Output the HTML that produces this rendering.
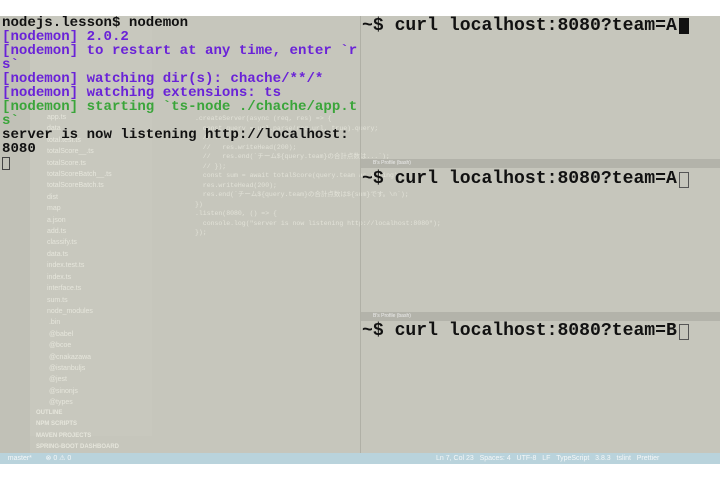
<!DOCTYPE html>
<html><head><meta charset="utf-8"><style>
body{margin:0;width:720px;height:480px;background:#fff;position:relative;overflow:hidden;font-family:"Liberation Mono",monospace}
.a{position:absolute}
.bg{left:0;top:16px;width:720px;height:437px;background:#c6c6bc}
.act{left:0;top:16px;width:30px;height:437px;background:#c1c1b7}
.exp{left:30px;top:16px;width:122px;height:420px;background:#c8c8be}
.status{left:0;top:453px;width:720px;height:11px;background:#b9d3dc;font:7px "Liberation Sans",sans-serif;color:#f4f7f8;line-height:11px}
.div{left:360px;top:16px;width:1px;height:437px;background:#b0b0a6}
.hdr{left:361px;width:359px;height:9px;background:#b3b3aa;font:5px "Liberation Sans",sans-serif;color:#eee;line-height:9px;padding-left:12px;box-sizing:border-box}
.t{white-space:pre;font-size:14.1px;line-height:14px;color:#111;font-weight:bold}
.p{color:#6a22d8}.g{color:#3aa53a}
.r{font-size:18.1px;color:#111;white-space:pre;left:362px;line-height:20px;font-weight:bold}
.f{font:7px "Liberation Sans",sans-serif;color:#e6e6dc;white-space:pre;line-height:11.4px}
.c{font:6.5px "Liberation Mono",monospace;color:#e2e2d8;white-space:pre;line-height:9.5px}
</style></head><body>
<div class="a bg"></div><div class="a act"></div><div class="a exp"></div>
<div class="a f" style="left:47px;top:112px">app.ts
data
total.test.ts
totalScore__.ts
totalScore.ts
totalScoreBatch__.ts
totalScoreBatch.ts
dist
map
a.json
add.ts
classify.ts
data.ts
index.test.ts
index.ts
interface.ts
sum.ts
node_modules
 .bin
 @babel
 @bcoe
 @cnakazawa
 @istanbuljs
 @jest
 @sinonjs
 @types</div>
<div class="a f" style="left:36px;top:408px;font-weight:bold;font-size:6px">OUTLINE
NPM SCRIPTS
MAVEN PROJECTS
SPRING-BOOT DASHBOARD</div>
<div class="a c" style="left:195px;top:114px">.createServer(async (req, res) => {
  const query = url.parse(req.url, true).query;
  // ...
  //   res.writeHead(200);
  //   res.end(`チーム${query.team}の合計点数は...`);
  // });
  const sum = await totalScore(query.team as string);
  res.writeHead(200);
  res.end(`チーム${query.team}の合計点数は${sum}です。\n`);
})
.listen(8080, () => {
  console.log("server is now listening http://localhost:8080");
});</div>
<div class="a div"></div>
<div class="a hdr" style="top:159px">B's Profile (bash)</div>
<div class="a hdr" style="top:312px">B's Profile (bash)</div>
<div class="a status">&nbsp;&nbsp;&nbsp;&nbsp;master*&nbsp;&nbsp;&nbsp;&nbsp;&nbsp;&nbsp;&nbsp;⊗ 0 ⚠ 0<span style="position:absolute;left:436px">Ln 7, Col 23&nbsp;&nbsp;&nbsp;Spaces: 4&nbsp;&nbsp;&nbsp;UTF-8&nbsp;&nbsp;&nbsp;LF&nbsp;&nbsp;&nbsp;TypeScript&nbsp;&nbsp;&nbsp;3.8.3&nbsp;&nbsp;&nbsp;tslint&nbsp;&nbsp;&nbsp;Prettier</span></div>
<div class="a t" style="left:2px;top:16px">nodejs.lesson$ nodemon
<span class="p">[nodemon] 2.0.2
[nodemon] to restart at any time, enter `r
s`
[nodemon] watching dir(s): chache/**/*
[nodemon] watching extensions: ts</span>
<span class="g">[nodemon] starting `ts-node ./chache/app.t
s`</span>
server is now listening http://localhost:
8080</div>
<div class="a" style="left:2px;top:157px;width:8px;height:13px;border:1px solid #444;box-sizing:border-box"></div>
<div class="a r" style="top:16px">~$ curl localhost:8080?team=A</div>
<div class="a" style="left:679px;top:18px;width:10px;height:16px;background:#111"></div>
<div class="a r" style="top:169px">~$ curl localhost:8080?team=A</div>
<div class="a" style="left:679px;top:172px;width:10px;height:16px;border:1px solid #555;box-sizing:border-box"></div>
<div class="a r" style="top:321px">~$ curl localhost:8080?team=B</div>
<div class="a" style="left:679px;top:324px;width:10px;height:16px;border:1px solid #555;box-sizing:border-box"></div>
</body></html>
